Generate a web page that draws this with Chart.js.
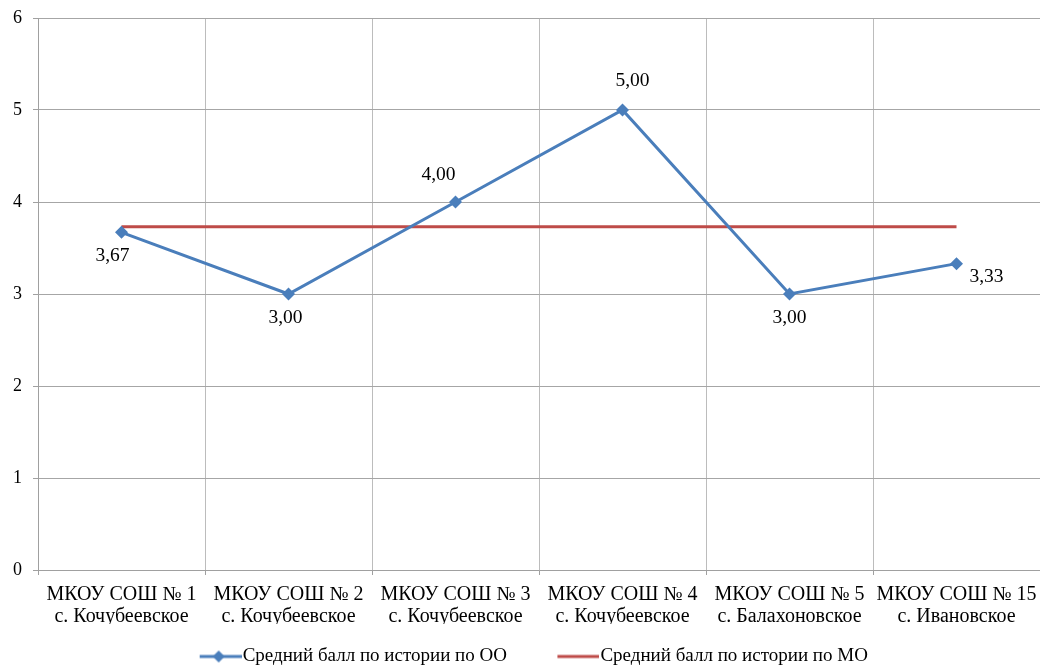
<!DOCTYPE html>
<html>
<head>
<meta charset="utf-8">
<script src="https://cdn.jsdelivr.net/npm/chart.js@4/dist/chart.umd.min.js"></script>
<style>
  html, body { margin: 0; padding: 0; background: #ffffff; }
  #c { display: block; }
</style>
</head>
<body>
<canvas id="c" width="1040" height="667"></canvas>
<script>
// ---- Data ----
const categories = [
  ['МКОУ СОШ № 1', 'с. Кочубеевское'],
  ['МКОУ СОШ № 2', 'с. Кочубеевское'],
  ['МКОУ СОШ № 3', 'с. Кочубеевское'],
  ['МКОУ СОШ № 4', 'с. Кочубеевское'],
  ['МКОУ СОШ № 5', 'с. Балахоновское'],
  ['МКОУ СОШ № 15', 'с. Ивановское']
];
const seriesNames = ['Средний балл по истории по ОО', 'Средний балл по истории по МО'];
const ooValues = [3.67, 3.00, 4.00, 5.00, 3.00, 3.33];
const moValues = [3.73, 3.73, 3.73, 3.73, 3.73, 3.73];
const yTicks = [0, 1, 2, 3, 4, 5, 6];

// ---- Styles ----
const FONT = 'Liberation Serif, Times New Roman, serif';
const BLUE = '#4A7EBB';
const RED = '#BE4B48';
// label offsets (dx, dy) relative to each point
const labelOffsets = [[-9, 24], [-3, 24], [-17, -27], [10, -29], [0, 24], [30, 13]];

// legend marker image: transparent lead-in on the left, visible 42px line on the right
const LEAD = 36;
function legendImage(color, withMarker) {
  const cv = document.createElement('canvas');
  cv.width = 42 + LEAD; cv.height = 14;
  const g = cv.getContext('2d');
  g.strokeStyle = color; g.lineWidth = 3;
  g.beginPath(); g.moveTo(LEAD, 7); g.lineTo(LEAD + 42, 7); g.stroke();
  if (withMarker) {
    g.fillStyle = color;
    const cx = LEAD + 19;
    g.beginPath();
    g.moveTo(cx, 1); g.lineTo(cx + 6, 7); g.lineTo(cx, 13); g.lineTo(cx - 6, 7);
    g.closePath(); g.fill();
  }
  return cv;
}
const legendImgs = [legendImage(BLUE, true), legendImage(RED, false)];

const dataLabels = {
  id: 'dataLabels',
  afterDatasetsDraw(chart) {
    const meta = chart.getDatasetMeta(0);
    const ctx = chart.ctx;
    ctx.save();
    ctx.font = '19.5px ' + FONT;
    ctx.fillStyle = '#000000';
    ctx.textAlign = 'center';
    ctx.textBaseline = 'middle';
    meta.data.forEach((pt, i) => {
      const v = chart.data.datasets[0].data[i];
      const off = labelOffsets[i];
      ctx.fillText(v.toFixed(2).replace('.', ','), pt.x + off[0], pt.y + off[1]);
    });
    ctx.restore();
  }
};

new Chart(document.getElementById('c'), {
  type: 'line',
  data: {
    labels: categories,
    datasets: [
      {
        label: seriesNames[0],
        data: ooValues,
        borderColor: BLUE,
        backgroundColor: BLUE,
        borderWidth: 3,
        pointStyle: 'rectRot',
        pointRadius: 6.5,
        pointBorderWidth: 0,
        pointBackgroundColor: BLUE,
        tension: 0,
        order: 1
      },
      {
        label: seriesNames[1],
        data: moValues,
        borderColor: RED,
        backgroundColor: RED,
        borderWidth: 3,
        pointRadius: 0,
        tension: 0,
        order: 2
      }
    ]
  },
  options: {
    responsive: false,
    animation: false,
    devicePixelRatio: 1,
    layout: { autoPadding: false, padding: { top: 18, left: 0, right: 0, bottom: -9 } },
    plugins: {
      tooltip: { enabled: false },
      legend: {
        position: 'bottom',
        labels: {
          usePointStyle: true,
          pointStyleWidth: 25 + LEAD,
          padding: 23,
          color: '#000000',
          font: { family: FONT, size: 19 },
          generateLabels(chart) {
            return chart.data.datasets.map((ds, i) => ({
              text: ds.label,
              pointStyle: legendImgs[i],
              fillStyle: ds.borderColor,
              strokeStyle: ds.borderColor,
              lineWidth: 0,
              hidden: false,
              datasetIndex: i,
              fontColor: '#000000'
            }));
          }
        }
      }
    },
    scales: {
      x: {
        offset: true,
        grid: {
          offset: true,
          color: (c) => c.type === 'tick' ? '#bcbcbc' : 'rgba(0,0,0,0)',
          tickColor: '#a0a0a0',
          tickLength: 5,
          lineWidth: 1
        },
        border: { color: '#a0a0a0', width: 1 },
        ticks: {
          color: '#000000',
          padding: 9,
          maxRotation: 0,
          autoSkip: false,
          font: { family: FONT, size: 20, lineHeight: 1.1 }
        },
        afterFit(scale) { scale.height = 54; scale.paddingLeft = 0; scale.paddingRight = 0; }
      },
      y: {
        min: 0,
        max: 6,
        afterBuildTicks(scale) { scale.ticks = yTicks.map(v => ({ value: v })); },
        grid: { color: '#a6a6a6', tickColor: '#a0a0a0', tickLength: 5, lineWidth: 1 },
        border: { color: '#a0a0a0', width: 1 },
        ticks: {
          color: '#000000',
          padding: 11,
          font: { family: FONT, size: 18 }
        },
        afterFit(scale) { scale.width = 38; scale.paddingTop = 0; scale.paddingBottom = 0; }
      }
    }
  },
  plugins: [dataLabels]
});
</script>
</body>
</html>
